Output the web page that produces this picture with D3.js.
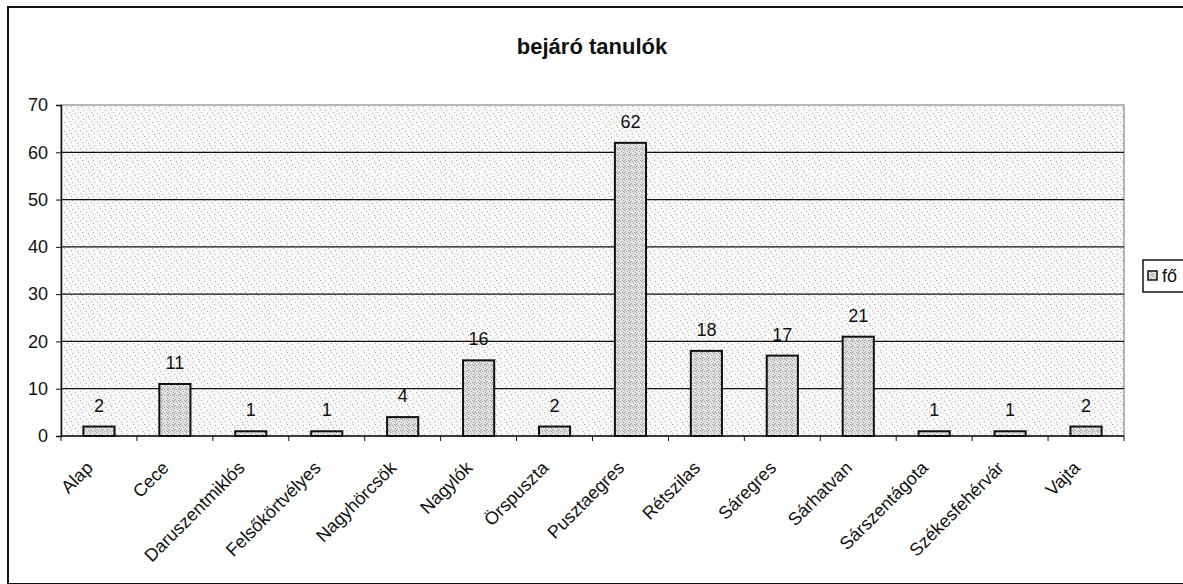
<!DOCTYPE html>
<html>
<head>
<meta charset="utf-8">
<script src="https://cdn.jsdelivr.net/npm/d3@7"></script>
<style>
    body { margin: 0; background: #fff; }
    text { font-family: "Liberation Sans", Arial, sans-serif; }
</style>
</head>
<body>
<svg id="drawing_region"></svg>
<script>
const categories = ["Alap", "Cece", "Daruszentmiklós", "Felsőkörtvélyes", "Nagyhörcsök", "Nagylók",
    "Örspuszta", "Pusztaegres", "Rétszilas", "Sáregres", "Sárhatvan", "Sárszentágota",
    "Székesfehérvár", "Vajta"];
const values = [2, 11, 1, 1, 4, 16, 2, 62, 18, 17, 21, 1, 1, 2];
const yTicks = [0, 10, 20, 30, 40, 50, 60, 70];
const seriesName = "fő";
const title = "bejáró tanulók";

class BarChart {

    constructor( config, data ) {
        this.config = {
            parent: config.parent,
            width: config.width || 1183,
            height: config.height || 584,
            margin: config.margin,
        }
        this.data = data;
        this.init();
    }

    init() {
        let self = this;
        let m = self.config.margin;

        self.svg = d3.select(self.config.parent)
            .attr('width', self.config.width)
            .attr('height', self.config.height);

        // stippled fills like the scanned print
        let defs = self.svg.append('defs');
        let bg = defs.append('pattern').attr('id', 'bgdots')
            .attr('width', 11).attr('height', 9).attr('patternUnits', 'userSpaceOnUse');
        bg.append('rect').attr('width', 11).attr('height', 9).attr('fill', '#f8f8f8');
        [[1,1],[6,2],[3,4],[9,5],[5,7],[0,8]].forEach(p => {
            bg.append('rect').attr('x', p[0]).attr('y', p[1]).attr('width', 1).attr('height', 1).attr('fill', '#ababab');
        });
        let bar = defs.append('pattern').attr('id', 'bardots')
            .attr('width', 6).attr('height', 6).attr('patternUnits', 'userSpaceOnUse');
        bar.append('rect').attr('width', 6).attr('height', 6).attr('fill', '#e4e4e4');
        [[0,0],[3,1],[5,2],[1,3],[4,4],[2,5],[0,4],[5,5]].forEach(p => {
            bar.append('rect').attr('x', p[0]).attr('y', p[1]).attr('width', 1).attr('height', 1).attr('fill', '#9a9a9a');
        });

        self.x = d3.scaleBand()
            .domain(categories)
            .range([m.left, m.right])
            .paddingInner(0.59)
            .paddingOuter(0.295);

        self.y = d3.scaleLinear()
            .domain([0, 70])
            .range([m.bottom, m.top]);
    }

    update() {
        let self = this;
        self.render();
    }

    render() {
        let self = this;
        let m = self.config.margin;

        // outer chart border (cut at right/bottom)
        self.svg.append('rect')
            .attr('x', 8).attr('y', 7)
            .attr('width', 1300).attr('height', 577)
            .attr('fill', 'none').attr('stroke', '#111').attr('stroke-width', 2);

        self.svg.append('text')
            .attr('x', 592).attr('y', 54)
            .attr('text-anchor', 'middle')
            .attr('font-size', '22px').attr('font-weight', 'bold')
            .attr('fill', '#111')
            .text(title);

        // plot area
        self.svg.append('rect')
            .attr('x', m.left).attr('y', m.top)
            .attr('width', m.right - m.left).attr('height', m.bottom - m.top)
            .attr('fill', 'url(#bgdots)')
            .attr('stroke', '#8a8a8a').attr('stroke-width', 1.2);

        // gridlines
        self.svg.selectAll('.grid')
            .data(yTicks.filter(t => t > 0 && t < 70))
            .enter()
            .append('line')
            .attr('class', 'grid')
            .attr('x1', m.left).attr('x2', m.right)
            .attr('y1', d => self.y(d)).attr('y2', d => self.y(d))
            .attr('stroke', '#111').attr('stroke-width', 1.2);

        // y axis
        let yAxis = d3.axisLeft(self.y).tickValues(yTicks).tickSize(5).tickPadding(8);
        let yg = self.svg.append('g')
            .attr('transform', `translate(${m.left},0)`)
            .call(yAxis);
        yg.select('.domain').attr('stroke', '#111').attr('stroke-width', 1.5);
        yg.selectAll('.tick line').attr('stroke', '#111');
        yg.selectAll('.tick text')
            .attr('font-size', '18px')
            .attr('font-family', '"Liberation Sans", Arial, sans-serif')
            .attr('fill', '#111');

        // x axis with ticks between categories
        let step = self.x.step();
        let bounds = d3.range(categories.length + 1).map(i => m.left + i * step);
        self.svg.append('line')
            .attr('x1', m.left).attr('x2', m.right)
            .attr('y1', m.bottom).attr('y2', m.bottom)
            .attr('stroke', '#111').attr('stroke-width', 1.5);
        self.svg.selectAll('.xtick')
            .data(bounds)
            .enter()
            .append('line')
            .attr('class', 'xtick')
            .attr('x1', d => d).attr('x2', d => d)
            .attr('y1', m.bottom).attr('y2', m.bottom + 5)
            .attr('stroke', '#111');

        self.svg.selectAll('.xlabel')
            .data(categories)
            .enter()
            .append('text')
            .attr('class', 'xlabel')
            .attr('text-anchor', 'end')
            .attr('font-size', '18px')
            .attr('fill', '#111')
            .attr('transform', d => `translate(${self.x(d) + self.x.bandwidth() / 2 - 5}, ${m.bottom + 33}) rotate(-45)`)
            .text(d => d);

        // bars
        self.svg.selectAll('.bar')
            .data(self.data)
            .enter()
            .append('rect')
            .attr('class', 'bar')
            .attr('x', d => self.x(d.label))
            .attr('y', d => self.y(d.value))
            .attr('width', self.x.bandwidth())
            .attr('height', d => self.y(0) - self.y(d.value))
            .attr('fill', 'url(#bardots)')
            .attr('stroke', '#111').attr('stroke-width', 2);

        self.svg.selectAll('.vlabel')
            .data(self.data)
            .enter()
            .append('text')
            .attr('class', 'vlabel')
            .attr('x', d => self.x(d.label) + self.x.bandwidth() / 2)
            .attr('y', d => self.y(d.value) - 15)
            .attr('text-anchor', 'middle')
            .attr('font-size', '18px')
            .attr('fill', '#111')
            .text(d => d.value);

        // legend (cut at right edge)
        self.svg.append('rect')
            .attr('x', 1143).attr('y', 260)
            .attr('width', 80).attr('height', 32)
            .attr('fill', '#fff').attr('stroke', '#111').attr('stroke-width', 1.5);
        self.svg.append('rect')
            .attr('x', 1148).attr('y', 271)
            .attr('width', 9).attr('height', 9)
            .attr('fill', 'url(#bardots)').attr('stroke', '#111').attr('stroke-width', 1.5);
        self.svg.append('text')
            .attr('x', 1162).attr('y', 282)
            .attr('font-size', '18px')
            .attr('fill', '#111')
            .text(seriesName);
    }
}

const data = categories.map((c, i) => ({ label: c, value: values[i] }));

const chart = new BarChart({
    parent: '#drawing_region',
    width: 1183,
    height: 584,
    margin: { left: 61, right: 1124, top: 105, bottom: 436 },
}, data);
chart.update();
</script>
</body>
</html>
